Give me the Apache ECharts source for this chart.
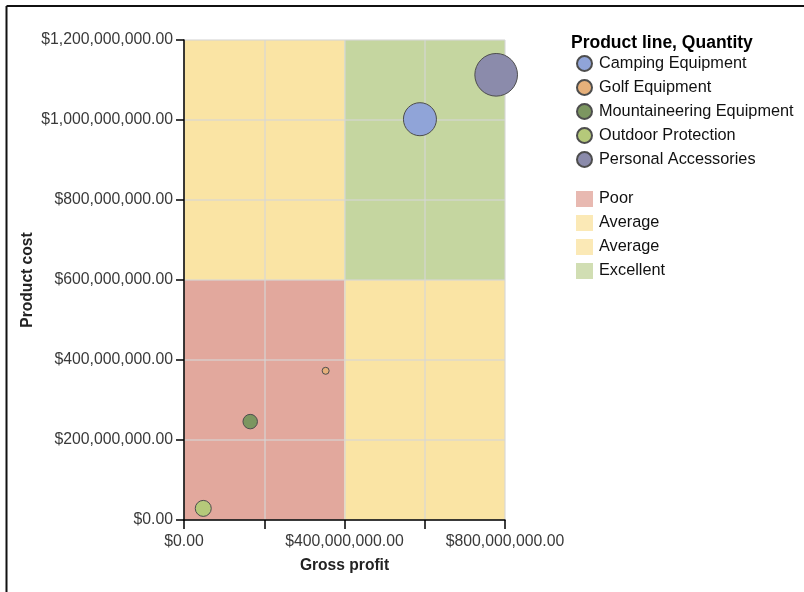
<!DOCTYPE html>
<html>
<head>
<meta charset="utf-8">
<script src="https://cdn.jsdelivr.net/npm/echarts@6/dist/echarts.min.js"></script>
<style>
  html, body { margin: 0; padding: 0; background: #fff; }
  #chart { width: 804px; height: 592px; }
</style>
</head>
<body>
<div id="chart"></div>
<script>
// product lines (bubbles)
const productLines = ['Camping Equipment', 'Golf Equipment', 'Mountaineering Equipment', 'Outdoor Protection', 'Personal Accessories'];
const grossProfit = [588e6, 353e6, 165e6, 48e6, 778e6];
const productCost = [1002e6, 373e6, 246e6, 29e6, 1113e6];
const quantity = [10.9e6, 0.49e6, 2.1e6, 2.56e6, 18.2e6];
const lineColors = ['#90a4d8', '#e6b07a', '#7c9660', '#b5c97a', '#8b8bab'];

// quadrants (background areas)
const quadrantNames = ['Poor', 'Average', 'Average ', 'Excellent'];
const quadrantX = [[0, 400e6], [0, 400e6], [400e6, 800e6], [400e6, 800e6]];
const quadrantY = [[0, 600e6], [600e6, 1200e6], [0, 600e6], [600e6, 1200e6]];
const quadrantColors = ['#e2a89d', '#fae4a4', '#fae4a4', '#c5d6a0'];

const fmtMoney = (v) => '$' + v.toLocaleString('en-US', {minimumFractionDigits: 2, maximumFractionDigits: 2});
const font = '"Liberation Sans", Arial, sans-serif';
const labelColor = '#3a3a3a';

const series = [];
quadrantNames.forEach((n, i) => {
  series.push({
    name: n,
    type: 'scatter',
    data: [],
    itemStyle: {color: quadrantColors[i]},
    silent: true,
    markArea: {
      silent: true,
      itemStyle: {color: quadrantColors[i], opacity: 1},
      data: [[
        {coord: [quadrantX[i][0], quadrantY[i][0]]},
        {coord: [quadrantX[i][1], quadrantY[i][1]]}
      ]]
    }
  });
});
productLines.forEach((n, i) => {
  series.push({
    name: n,
    type: 'scatter',
    z: 4,
    data: [[grossProfit[i], productCost[i], quantity[i]]],
    symbolSize: (d) => Math.sqrt(d[2]) * 0.01,
    itemStyle: {color: lineColors[i], borderColor: '#4d4d4d', borderWidth: 1, opacity: 1}
  });
});

const myChart = echarts.init(document.getElementById('chart'));
myChart.setOption({
  animation: false,
  textStyle: {fontFamily: font},
  title: {
    text: 'Product line, Quantity',
    left: 571,
    top: 34,
    padding: 0,
    textStyle: {fontFamily: font, fontSize: 17.5, fontWeight: 'bold', color: '#000'}
  },
  legend: [{
    data: productLines,
    orient: 'vertical',
    left: 576,
    top: 55,
    padding: 0,
    icon: 'circle',
    itemWidth: 15,
    itemHeight: 15,
    itemGap: 7,
    textStyle: {fontFamily: font, fontSize: 16.3, color: '#111', lineHeight: 15, padding: [0, 0, 0, 2]}
  }, {
    data: quadrantNames,
    orient: 'vertical',
    left: 576,
    top: 191,
    padding: 0,
    icon: 'rect',
    itemWidth: 17,
    itemHeight: 16,
    itemGap: 8,
    formatter: (name) => name.trim(),
    textStyle: {fontFamily: font, fontSize: 16.3, color: '#111', lineHeight: 16, padding: [0, 0, 0, 1]}
  }],
  grid: {left: 184, right: 299, top: 40, bottom: 72},
  xAxis: {
    type: 'value',
    min: 0,
    max: 800e6,
    interval: 200e6,
    z: 3,
    name: 'Gross profit',
    nameLocation: 'middle',
    nameGap: 38,
    nameTextStyle: {fontFamily: font, fontSize: 15.6, fontWeight: 'bold', color: '#222'},
    axisLine: {lineStyle: {color: '#000', width: 1.5}},
    axisTick: {length: 9, lineStyle: {color: '#000', width: 1.5}},
    axisLabel: {
      margin: 14,
      fontSize: 15.8,
      color: labelColor,
      formatter: (v) => (v % 400e6 === 0 ? fmtMoney(v) : '')
    },
    splitLine: {lineStyle: {color: 'rgba(215,215,215,0.75)', width: 1.5}}
  },
  yAxis: {
    type: 'value',
    min: 0,
    max: 1200e6,
    interval: 200e6,
    z: 3,
    name: 'Product cost',
    nameLocation: 'middle',
    nameGap: 148,
    nameRotate: 90,
    nameTextStyle: {fontFamily: font, fontSize: 15.6, fontWeight: 'bold', color: '#222'},
    axisLine: {show: true, lineStyle: {color: '#000', width: 1.5}},
    axisTick: {show: true, length: 8, lineStyle: {color: '#000', width: 1.5}},
    axisLabel: {margin: 11, fontSize: 15.8, color: labelColor, formatter: fmtMoney},
    splitLine: {lineStyle: {color: 'rgba(215,215,215,0.75)', width: 1.5}}
  },
  graphic: [
    {type: 'line', shape: {x1: 6.5, y1: 6, x2: 804, y2: 6}, style: {stroke: '#111', lineWidth: 2}},
    {type: 'line', shape: {x1: 6.5, y1: 6, x2: 6.5, y2: 592}, style: {stroke: '#111', lineWidth: 2}}
  ],
  series: series
});
</script>
</body>
</html>
